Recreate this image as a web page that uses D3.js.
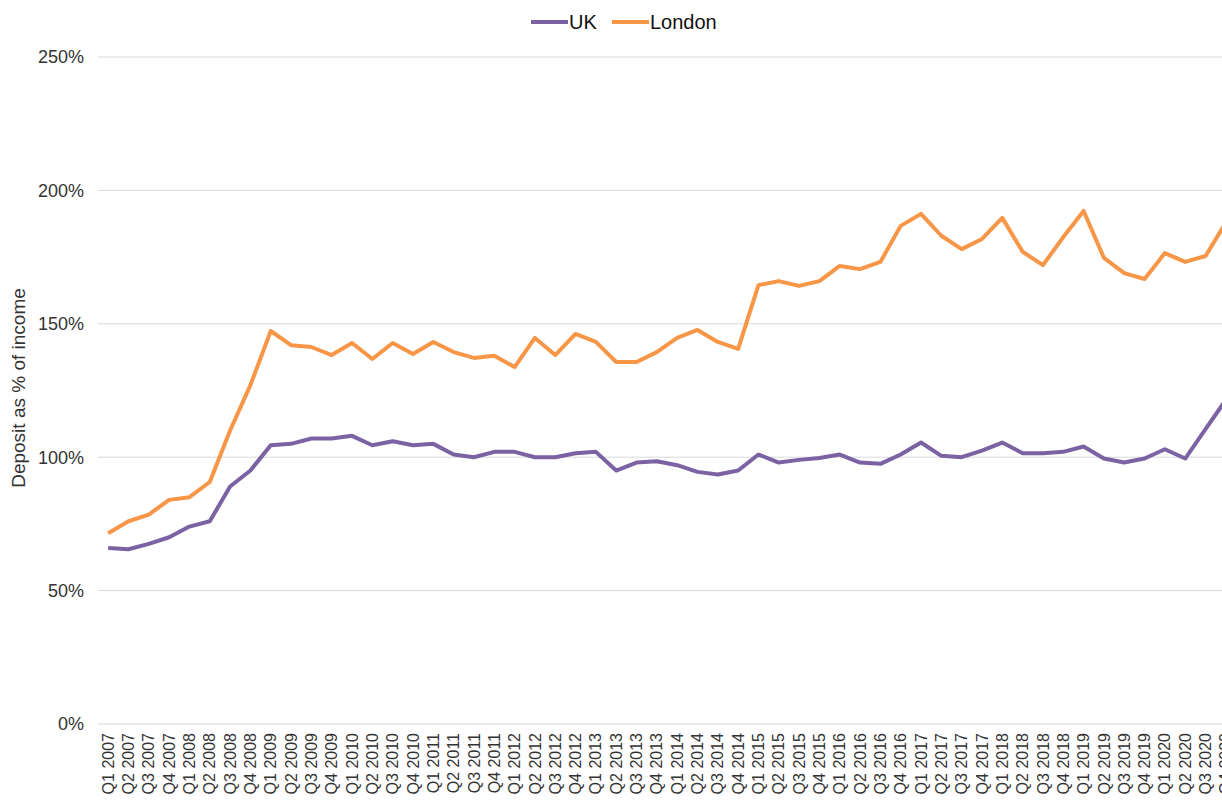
<!DOCTYPE html>
<html lang="en">
<head>
<meta charset="UTF-8">
<title>Deposit as % of income</title>
<script src="https://d3js.org/d3.v7.min.js"></script>
<style>
  body { margin: 0; background: #fff; overflow: hidden; }
  text { font-family: "Liberation Sans", Arial, sans-serif; fill: #333; }
</style>
</head>
<body>
<script>
// quarters Q1 2007 .. Q4 2020
var years = d3.range(2007, 2021);
var quarters = [];
years.forEach(function(y) {
    ["Q1", "Q2", "Q3", "Q4"].forEach(function(q) { quarters.push(q + " " + y); });
});

var ukValues = [66, 65.5, 67.5, 70, 74, 76, 89, 95, 104.5, 105, 107, 107, 108, 104.5, 106, 104.5,
    105, 101, 100, 102, 102, 100, 100, 101.5, 102, 95, 98, 98.5, 97, 94.5, 93.5, 95,
    101, 98, 99, 99.7, 101, 98, 97.5, 101, 105.5, 100.5, 100, 102.5, 105.5, 101.5,
    101.5, 102, 104, 99.5, 98, 99.5, 103, 99.5, 110.5, 121.5];

var londonValues = [71.5, 76, 78.5, 84, 85, 90.7, 110, 127, 147.3, 142, 141.3, 138.3, 142.8, 136.8,
    142.8, 138.7, 143.2, 139.4, 137.2, 138, 133.8, 144.7, 138.3, 146.2, 143.2, 135.7,
    135.7, 139.4, 144.7, 147.7, 143.2, 140.6, 164.5, 166, 164.2, 166, 171.7, 170.5,
    173.2, 186.7, 191.2, 183, 178, 181.8, 189.7, 177, 172, 182.5, 192.3, 174.7, 169,
    166.8, 176.5, 173.2, 175.4, 188];

var yTicks = [0, 50, 100, 150, 200, 250];

var series = [
    { name: "UK", values: ukValues, color: "#7b62a3" },
    { name: "London", values: londonValues, color: "#f79646" }
];

var width = 1222, height = 807;

var svg = d3.select("body").append("svg")
    .attr("width", width)
    .attr("height", height);

var x = d3.scalePoint()
    .domain(quarters)
    .range([98, 1236])
    .padding(0.5);

var y = d3.scaleLinear()
    .domain([0, 250])
    .range([724, 57]);

// gridlines
svg.append("g")
    .selectAll("line")
    .data(yTicks)
    .enter().append("line")
    .attr("x1", 98)
    .attr("x2", 1240)
    .attr("y1", function(d) { return y(d); })
    .attr("y2", function(d) { return y(d); })
    .attr("stroke", "#d9d9d9")
    .attr("stroke-width", 1);

// y tick labels
svg.append("g")
    .selectAll("text")
    .data(yTicks)
    .enter().append("text")
    .attr("x", 84)
    .attr("y", function(d) { return y(d); })
    .attr("dy", "0.35em")
    .attr("text-anchor", "end")
    .style("font-size", "18px")
    .text(function(d) { return d + "%"; });

// x tick labels (rotated)
svg.append("g")
    .selectAll("text")
    .data(quarters)
    .enter().append("text")
    .attr("transform", function(d) { return "translate(" + x(d) + ",733) rotate(-90)"; })
    .attr("dy", "0.35em")
    .attr("text-anchor", "end")
    .style("font-size", "16px")
    .text(function(d) { return d; });

// y axis title
svg.append("text")
    .attr("transform", "translate(18,388) rotate(-90)")
    .attr("dy", "0.35em")
    .attr("text-anchor", "middle")
    .style("font-size", "19px")
    .text("Deposit as % of income");

var line = d3.line()
    .x(function(d, i) { return x(quarters[i]); })
    .y(function(d) { return y(d); });

svg.append("g")
    .selectAll("path")
    .data(series)
    .enter().append("path")
    .attr("d", function(d) { return line(d.values); })
    .attr("fill", "none")
    .attr("stroke", function(d) { return d.color; })
    .attr("stroke-width", 4)
    .attr("stroke-linejoin", "round");

// legend
var legend = svg.append("g");
var legendItems = [
    { s: series[0], x: 531 },
    { s: series[1], x: 612 }
];
legendItems.forEach(function(item) {
    legend.append("line")
        .attr("x1", item.x).attr("x2", item.x + 37)
        .attr("y1", 22).attr("y2", 22)
        .attr("stroke", item.s.color)
        .attr("stroke-width", 4);
    legend.append("text")
        .attr("x", item.x + 38)
        .attr("y", 22)
        .attr("dy", "0.35em")
        .style("font-size", "20px")
        .style("fill", "#111")
        .text(item.s.name);
});
</script>
</body>
</html>
